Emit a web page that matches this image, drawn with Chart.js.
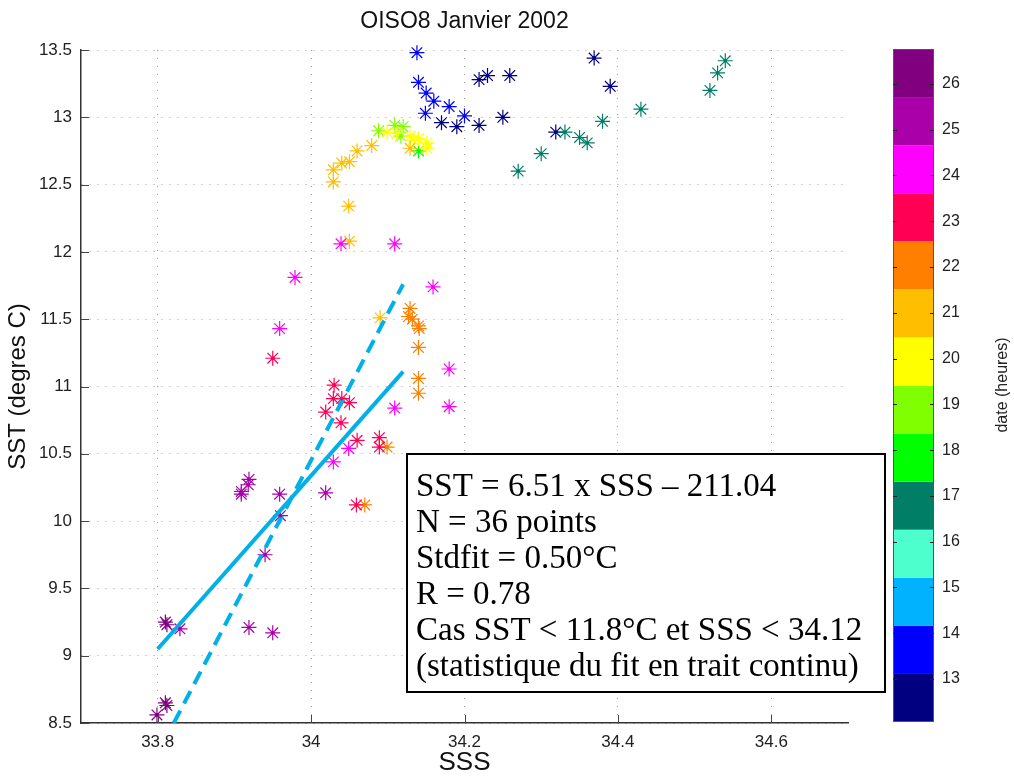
<!DOCTYPE html>
<html><head><meta charset="utf-8">
<script src="https://cdn.jsdelivr.net/npm/chart.js@4"></script>
<style>html,body{margin:0;padding:0;background:#fff}</style>
</head><body>
<canvas id="c" width="1014" height="776"></canvas>
<script>
// ---- texts and tick labels ----
const titleText = 'OISO8 Janvier 2002';
const xTicks = [33.8, 34.0, 34.2, 34.4, 34.6];
const yTicks = [8.5, 9, 9.5, 10, 10.5, 11, 11.5, 12, 12.5, 13, 13.5];
const cbTicks = [13, 14, 15, 16, 17, 18, 19, 20, 21, 22, 23, 24, 25, 26];
const cbMin = 12.04, cbMax = 26.74;
// colorbar colours, bottom (13 h) to top (26 h)
const cbColors = ['#000080','#0000FF','#00B2FF','#4DFFCC','#007F66','#00FF00','#80FF00','#FFFF00','#FFBF00','#FF8000','#FF0055','#FF00FF','#AA00AA','#80007F'];

// ---- observations, grouped by hour ----
const sss13 = [34.219,34.230,34.259,34.369,34.390,34.170,34.190,34.219,34.250,34.319];
const sst13 = [13.28,13.31,13.31,13.44,13.23,12.96,12.93,12.94,13.00,12.89];
const sss14 = [34.138,34.140,34.150,34.160,34.180,34.149,34.200];
const sst14 = [13.48,13.26,13.18,13.12,13.08,13.03,13.01];
const sss17 = [34.540,34.530,34.520,34.430,34.380,34.331,34.350,34.360,34.300,34.270];
const sst17 = [13.42,13.33,13.20,13.06,12.97,12.89,12.85,12.81,12.73,12.60];
const sss18 = [34.140];
const sst18 = [12.75];
const sss19 = [34.088,34.109,34.120,34.117];
const sst19 = [12.90,12.94,12.93,12.86];
const sss20 = [34.099,34.112,34.129,34.140,34.151,34.151,34.133];
const sst20 = [12.89,12.88,12.86,12.84,12.81,12.77,12.83];
const sss21 = [34.029,34.029,34.040,34.050,34.060,34.079,34.049,34.129,34.050,34.090];
const sst21 = [12.52,12.61,12.66,12.67,12.75,12.79,12.34,12.77,12.08,11.51];
const sss22 = [34.129,34.127,34.132,34.140,34.141,34.140,34.140,34.140,34.099,34.070];
const sst22 = [11.58,11.52,11.50,11.45,11.43,11.29,11.06,10.95,10.55,10.12];
const sss23 = [33.950,34.030,34.029,34.040,34.050,34.019,34.039,34.060,34.089,34.089,34.059];
const sst23 = [11.21,11.01,10.91,10.91,10.88,10.81,10.73,10.60,10.62,10.55,10.12];
const sss24 = [34.039,34.109,33.979,34.159,33.959,34.180,34.109,34.180,34.049,34.029];
const sst24 = [12.06,12.06,11.81,11.74,11.43,11.13,10.84,10.85,10.54,10.44];
const sss25 = [33.919,33.918,33.909,33.909,33.959,33.960,33.940,33.829,33.919,33.950,34.019];
const sst25 = [10.31,10.27,10.22,10.20,10.20,10.04,9.75,9.20,9.21,9.17,10.21];
const sss26 = [33.810,33.812,33.810,33.812,33.799];
const sst26 = [9.25,9.23,8.65,8.63,8.56];

const groups = [
  [13, sss13, sst13],[14, sss14, sst14],[17, sss17, sst17],[18, sss18, sst18],
  [19, sss19, sst19],[20, sss20, sst20],[21, sss21, sst21],[22, sss22, sst22],
  [23, sss23, sst23],[24, sss24, sst24],[25, sss25, sst25],[26, sss26, sst26]
];

// ---- fit lines (end points) ----
const fitSolidSSS = [33.80, 34.12];
const fitSolidSST = [9.05, 11.11];
const fitDashSSS = [33.821, 34.12];
const fitDashSST = [8.50, 11.76];

const boxLines = [
  'SST = 6.51 x SSS \u2013 211.04',
  'N = 36 points',
  'Stdfit = 0.50\u00B0C',
  'R = 0.78',
  'Cas SST < 11.8\u00B0C et SSS < 34.12',
  '(statistique du fit en trait continu)'
];

const zip = (xs, ys) => xs.map((x, i) => ({x: x, y: ys[i]}));
const lineBlue = '#00B0E6';

const datasets = [
  {type: 'line', label: 'fit', data: zip(fitSolidSSS, fitSolidSST), borderColor: lineBlue, borderWidth: 4,
   pointRadius: 0, fill: false, tension: 0, borderCapStyle: 'butt'},
  {type: 'line', label: 'fit2', data: zip(fitDashSSS, fitDashSST), borderColor: lineBlue, borderWidth: 4,
   borderDash: [14, 8], pointRadius: 0, fill: false, tension: 0, borderCapStyle: 'butt'}
];
groups.slice().reverse().forEach(g => {
  const col = cbColors[g[0] - 13];
  datasets.push({type: 'scatter', label: g[0] + ' h', data: zip(g[1], g[2]), clip: false,
    pointStyle: 'star', pointRadius: 7.5, pointBorderWidth: 1.2, borderColor: col, backgroundColor: col,
    pointHoverRadius: 7.5});
});

const fontSans = 'Liberation Sans';
const zeroPad = s => { s.paddingTop = 0; s.paddingBottom = 0; s.paddingLeft = 0; s.paddingRight = 0; };

const deco = {
  id: 'deco',
  beforeDatasetsDraw(chart) {
    const ctx = chart.ctx, ca = chart.chartArea;
    const xs = chart.scales.x, ys = chart.scales.y;
    ctx.save();
    ctx.strokeStyle = '#444'; ctx.lineWidth = 1;
    xTicks.forEach(v => { const p = Math.round(xs.getPixelForValue(v)) + 0.5;
      ctx.beginPath(); ctx.moveTo(p, ca.bottom); ctx.lineTo(p, ca.bottom - 8); ctx.stroke(); });
    yTicks.forEach(v => { const p = Math.round(ys.getPixelForValue(v)) + 0.5;
      ctx.beginPath(); ctx.moveTo(ca.left, p); ctx.lineTo(ca.left + 8, p); ctx.stroke(); });
    // title centred over the plotting area
    ctx.fillStyle = '#111'; ctx.font = '23px ' + fontSans;
    ctx.textAlign = 'center'; ctx.textBaseline = 'middle';
    ctx.fillText(titleText, (ca.left + ca.right) / 2, 22);
    ctx.restore();
  },
  afterDatasetsDraw(chart) {
    const ctx = chart.ctx;
    // centre dots of the markers
    chart.data.datasets.forEach((ds, i) => {
      if (ds.type !== 'scatter') return;
      const meta = chart.getDatasetMeta(i);
      ctx.save(); ctx.fillStyle = ds.borderColor;
      meta.data.forEach(el => { ctx.beginPath(); ctx.arc(el.x, el.y, 1.8, 0, Math.PI * 2); ctx.fill(); });
      ctx.restore();
    });
    // colour bar
    const cb = chart.scales.cb;
    const x0 = 893, x1 = 934;
    const n = cbColors.length, step = (cbMax - cbMin) / n;
    ctx.save();
    cbColors.forEach((c, i) => {
      const yb = cb.getPixelForValue(cbMin + i * step), yt = cb.getPixelForValue(cbMin + (i + 1) * step);
      ctx.fillStyle = c; ctx.fillRect(x0, yt - 1, x1 - x0, yb - yt);
    });
    ctx.strokeStyle = '#555'; ctx.lineWidth = 1;
    ctx.strokeRect(x0 + 0.5, cb.getPixelForValue(cbMax) - 0.5, x1 - x0 - 1, cb.getPixelForValue(cbMin) - cb.getPixelForValue(cbMax) - 1);
    ctx.strokeStyle = '#222';
    cbTicks.forEach(v => { const p = Math.round(cb.getPixelForValue(v)) + 0.5;
      ctx.beginPath(); ctx.moveTo(x0, p); ctx.lineTo(x0 + 4, p); ctx.moveTo(x1 - 4, p); ctx.lineTo(x1, p); ctx.stroke(); });
    // colour bar title
    ctx.fillStyle = '#222'; ctx.font = '16px ' + fontSans;
    ctx.textAlign = 'center'; ctx.textBaseline = 'middle';
    ctx.translate(1003, 385); ctx.rotate(-Math.PI / 2);
    ctx.fillText('date (heures)', 0, 0);
    ctx.restore();
    // statistics box
    ctx.save();
    ctx.fillStyle = '#fff'; ctx.fillRect(406, 453, 480, 240);
    ctx.strokeStyle = '#000'; ctx.lineWidth = 2; ctx.strokeRect(407, 454, 478, 238);
    ctx.fillStyle = '#000'; ctx.font = '33px "Liberation Serif"';
    ctx.textAlign = 'left'; ctx.textBaseline = 'alphabetic';
    boxLines.forEach((t, i) => ctx.fillText(t, 416, 496 + i * 36));
    ctx.restore();
  }
};

new Chart(document.getElementById('c'), {
  type: 'scatter',
  data: {datasets: datasets},
  options: {
    responsive: false, animation: false,
    layout: {padding: {top: 50, left: 0, right: 0, bottom: 0}},
    plugins: {
      legend: {display: false}, tooltip: {enabled: false}, title: {display: false}
    },
    scales: {
      x: {type: 'linear', min: 33.7, max: 34.7,
        afterBuildTicks: s => { s.ticks = xTicks.map(v => ({value: v})); },
        afterFit: s => { s.height = 53; zeroPad(s); },
        ticks: {color: '#222', font: {family: fontSans, size: 17}, padding: 0, maxRotation: 0, autoSkip: false,
          callback: v => String(Math.round(v * 10) / 10)},
        grid: {color: '#a0a0a0', lineWidth: 1, drawTicks: true, tickLength: 9, tickColor: 'rgba(0,0,0,0)'},
        border: {display: true, color: '#333', width: 1.5, dash: [1, 7]},
        title: {display: true, text: 'SSS', color: '#111', font: {family: fontSans, size: 26}, padding: {top: 0, bottom: -2}}
      },
      y: {type: 'linear', min: 8.5, max: 13.5,
        afterBuildTicks: s => { s.ticks = yTicks.map(v => ({value: v})); },
        afterFit: s => { s.width = 81; zeroPad(s); },
        ticks: {color: '#222', font: {family: fontSans, size: 17}, padding: 0, autoSkip: false,
          callback: v => String(v)},
        grid: {color: '#a0a0a0', lineWidth: 1, drawTicks: true, tickLength: 9, tickColor: 'rgba(0,0,0,0)'},
        border: {display: true, color: '#333', width: 1.5, dash: [1, 7]},
        title: {display: true, text: 'SST (degres C)', color: '#111', font: {family: fontSans, size: 24}, padding: {top: 4, bottom: 0}}
      },
      cb: {type: 'linear', position: 'right', min: cbMin, max: cbMax,
        afterBuildTicks: s => { s.ticks = cbTicks.map(v => ({value: v})); },
        afterFit: s => { s.width = 166; zeroPad(s); },
        ticks: {color: '#222', font: {family: fontSans, size: 16}, padding: 0, autoSkip: false},
        grid: {drawOnChartArea: false, drawTicks: true, tickLength: 94, tickColor: 'rgba(0,0,0,0)'},
        border: {display: false}
      }
    }
  },
  plugins: [deco]
});
</script>
</body></html>
